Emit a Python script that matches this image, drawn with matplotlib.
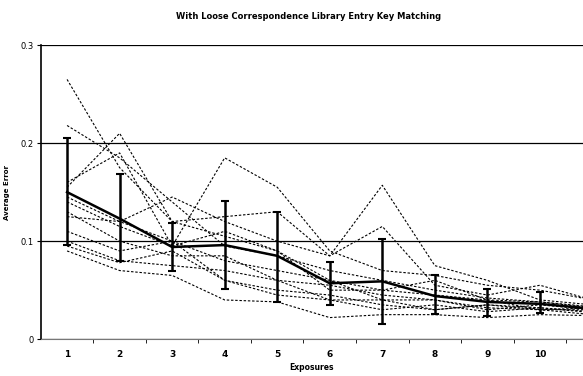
import numpy as np
import matplotlib.pyplot as plt

exposures = np.arange(1, 12)

# individual runs (dashed)
runs = [
    [0.265, 0.175, 0.120, 0.105, 0.090, 0.060, 0.050, 0.045, 0.040, 0.038, 0.033],
    [0.218, 0.185, 0.140, 0.095, 0.085, 0.070, 0.060, 0.050, 0.042, 0.038, 0.032],
    [0.155, 0.210, 0.120, 0.125, 0.130, 0.085, 0.157, 0.075, 0.060, 0.040, 0.035],
    [0.160, 0.190, 0.095, 0.185, 0.155, 0.090, 0.070, 0.065, 0.055, 0.050, 0.040],
    [0.145, 0.120, 0.145, 0.120, 0.100, 0.085, 0.115, 0.055, 0.045, 0.055, 0.040],
    [0.140, 0.115, 0.095, 0.110, 0.090, 0.050, 0.050, 0.060, 0.040, 0.030, 0.032],
    [0.130, 0.100, 0.085, 0.085, 0.060, 0.055, 0.045, 0.040, 0.030, 0.035, 0.030],
    [0.125, 0.120, 0.100, 0.060, 0.050, 0.045, 0.035, 0.030, 0.035, 0.032, 0.028],
    [0.100, 0.080, 0.075, 0.070, 0.060, 0.040, 0.040, 0.030, 0.035, 0.030, 0.025],
    [0.095, 0.078, 0.090, 0.060, 0.045, 0.040, 0.030, 0.035, 0.028, 0.032, 0.027],
    [0.090, 0.070, 0.065, 0.040, 0.038, 0.022, 0.025, 0.025, 0.022, 0.025, 0.024],
    [0.110, 0.090, 0.100, 0.080, 0.070, 0.060, 0.040, 0.040, 0.032, 0.030, 0.030],
]

# average with error bar ends
avg_error = [0.150, 0.123, 0.094, 0.096, 0.085, 0.057, 0.059, 0.044, 0.038, 0.036, 0.031]
err_top = [0.205, 0.169, 0.118, 0.141, 0.130, 0.079, 0.102, 0.065, 0.051, 0.048, 0.040]
err_bot = [0.096, 0.080, 0.070, 0.051, 0.038, 0.035, 0.015, 0.026, 0.024, 0.027, 0.024]

# only 1..10 are visible in the (cropped) original
tick_labels = [str(i) for i in range(1, 11)]

fig = plt.figure(figsize=(5.83, 3.76), dpi=100)
ax = fig.add_axes([0.070, 0.098, 0.93, 0.782])

for r in runs:
    ax.plot(exposures, r, color='black', linewidth=0.8, dashes=(2.2, 1.6))

avg = np.array(avg_error)
yerr = [avg - np.array(err_bot), np.array(err_top) - avg]
ax.errorbar(exposures, avg, yerr=yerr, color='black', linewidth=1.8,
            elinewidth=1.8, capsize=3, capthick=1.5)

ax.set_xlim(0.5, 10.82)
ax.set_ylim(0, 0.3)
ax.set_yticks([0, 0.1, 0.2, 0.3])
ax.set_yticklabels(['0', '0.1', '0.2', '0.3'], fontsize=6)
ax.set_xticks(exposures[:10])
ax.set_xticklabels(tick_labels, fontsize=6.5, fontweight='bold')
ax.set_xticks(np.arange(1.5, 11.5, 1), minor=True)
ax.tick_params(axis='x', which='major', length=0, pad=8)
ax.tick_params(axis='x', which='minor', length=3, direction='out')
ax.tick_params(axis='y', length=3, direction='out', pad=2)

ax.grid(axis='y', color='black', linewidth=0.9)
for s in ['top', 'right']:
    ax.spines[s].set_visible(False)
ax.spines['left'].set_linewidth(1.2)
ax.spines['bottom'].set_color('#777777')

ax.set_xlabel('Exposures', fontsize=5.5, fontweight='bold', labelpad=3)
ax.set_ylabel('Average Error', fontsize=5, fontweight='bold', labelpad=8)
fig.text(0.53, 0.955, 'With Loose Correspondence Library Entry Key Matching',
         ha='center', va='center', fontsize=6, fontweight='bold')

fig.savefig('out.png', dpi=100)
